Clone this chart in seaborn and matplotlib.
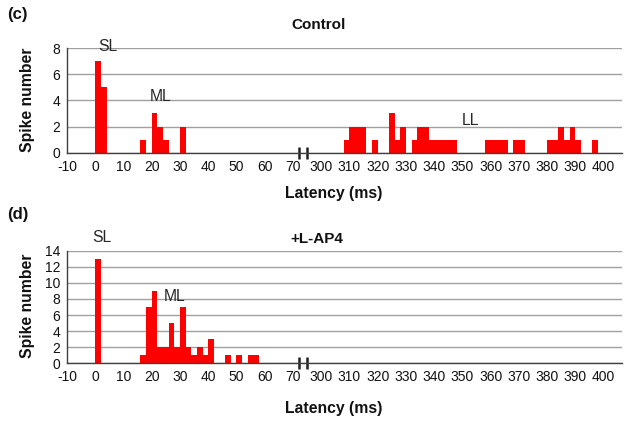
import numpy as np
import pandas as pd
import matplotlib
matplotlib.use('Agg')
import matplotlib.pyplot as plt
import matplotlib.transforms as mtransforms
import seaborn as sns

# --- data: spike counts per 2 ms bin (left edge of bin, ms) ---
ctrl_latency = [0, 2, 16, 20, 22, 24, 30,
                308, 310, 312, 314, 318, 324, 326, 328, 332, 334, 336,
                338, 340, 342, 344, 346, 358, 360, 362, 364, 368, 370,
                380, 382, 384, 386, 388, 390, 396]
ctrl_spikes = [7, 5, 1, 3, 2, 1, 2,
               1, 2, 2, 2, 1, 3, 1, 2, 1, 2, 2,
               1, 1, 1, 1, 1, 1, 1, 1, 1, 1, 1,
               1, 1, 2, 1, 2, 1, 1]

ap4_latency = [0, 16, 18, 20, 22, 24, 26, 28, 30, 32, 34, 36, 38, 40,
               46, 50, 54, 56]
ap4_spikes = [13, 1, 7, 9, 2, 2, 5, 2, 7, 2, 1, 2, 1, 3,
              1, 1, 1, 1]

tick_ms = [-10, 0, 10, 20, 30, 40, 50, 60, 70,
           300, 310, 320, 330, 340, 350, 360, 370, 380, 390, 400]

GAP = 220  # ms cut out at the axis break (70 | 300)


def to_axis(ms):
    ms = np.asarray(ms, dtype=float)
    return np.where(ms >= 290, ms - GAP, ms)


sns.set_style('white')
plt.rcParams['font.family'] = ['Liberation Sans', 'DejaVu Sans']

W, H = 629, 423
fig = plt.figure(figsize=(W / 100, H / 100), dpi=100)
ax_c = fig.add_axes([67 / W, 1 - 152.7 / H, 555 / W, 104.7 / H])
ax_d = fig.add_axes([67 / W, 1 - 363.3 / H, 555 / W, 112.6 / H])

AXIS_COL = '#404040'
GRID_COL = '#a0a0a0'


def draw_panel(ax, latency, spikes, ymax):
    df = pd.DataFrame({'pos': to_axis(np.array(latency) + 1), 'spikes': spikes})
    sns.barplot(data=df, x='pos', y='spikes', native_scale=True, width=1,
                color='#ff0000', saturation=1, errorbar=None,
                linewidth=0, ax=ax)
    ax.set_xlim(-10, 186.5)
    ax.set_ylim(0, ymax)
    ax.set_yticks(range(0, ymax + 1, 2))
    ax.set_xticks(to_axis(tick_ms))
    ax.set_xticklabels([str(t) for t in tick_ms])
    ax.yaxis.grid(True, color=GRID_COL, lw=1)
    ax.xaxis.grid(False)
    ax.set_axisbelow(True)
    for s in ['top', 'right']:
        ax.spines[s].set_visible(False)
    for s in ['left', 'bottom']:
        ax.spines[s].set_color(AXIS_COL)
        ax.spines[s].set_linewidth(1)
    ax.tick_params(axis='both', direction='out', length=3, width=1,
                   color=AXIS_COL, labelsize=10, labelcolor='#111111', pad=2)
    ax.set_xlabel('')
    ax.set_ylabel('')
    # axis break marks
    trans = mtransforms.blended_transform_factory(ax.transData, ax.transAxes)
    dy = 6 / (ax.get_position().height * H)
    for xb in [72.2, 75.0]:
        ax.plot([xb, xb], [-dy, dy], color='#202020', lw=1.8,
                transform=trans, clip_on=False, solid_capstyle='butt')


draw_panel(ax_c, ctrl_latency, ctrl_spikes, 8)
draw_panel(ax_d, ap4_latency, ap4_spikes, 14)

# peak labels
ax_c.text(4.5, 8.1, 'SL', ha='center', va='center', fontsize=11.3)
ax_c.text(23, 4.27, 'ML', ha='center', va='center', fontsize=11.3)
ax_c.text(to_axis(353), 2.44, 'LL', ha='center', va='center', fontsize=11.3)
ax_d.text(2.4, 15.6, 'SL', ha='center', va='center', fontsize=11.3)
ax_d.text(28, 8.3, 'ML', ha='center', va='center', fontsize=11.3)

# titles, panel letters and axis labels
bold = dict(fontweight='bold', color='#111111')
fig.text(7 / W, 1 - 15 / H, '(c)', ha='left', va='center', fontsize=12, **bold)
fig.text(7 / W, 1 - 215 / H, '(d)', ha='left', va='center', fontsize=12, **bold)
fig.text(319 / W, 1 - 25 / H, 'Control', ha='center', va='center', fontsize=11, **bold)
fig.text(317 / W, 1 - 239 / H, '+L-AP4', ha='center', va='center', fontsize=11, **bold)
fig.text(334 / W, 1 - 193 / H, 'Latency (ms)', ha='center', va='center', fontsize=11.3, **bold)
fig.text(334 / W, 1 - 408 / H, 'Latency (ms)', ha='center', va='center', fontsize=11.3, **bold)
fig.text(28 / W, 1 - 100 / H, 'Spike number', ha='center', va='center',
         rotation=90, fontsize=11.3, **bold)
fig.text(28 / W, 1 - 306 / H, 'Spike number', ha='center', va='center',
         rotation=90, fontsize=11.3, **bold)

fig.savefig('out.png', dpi=100, facecolor='white')
